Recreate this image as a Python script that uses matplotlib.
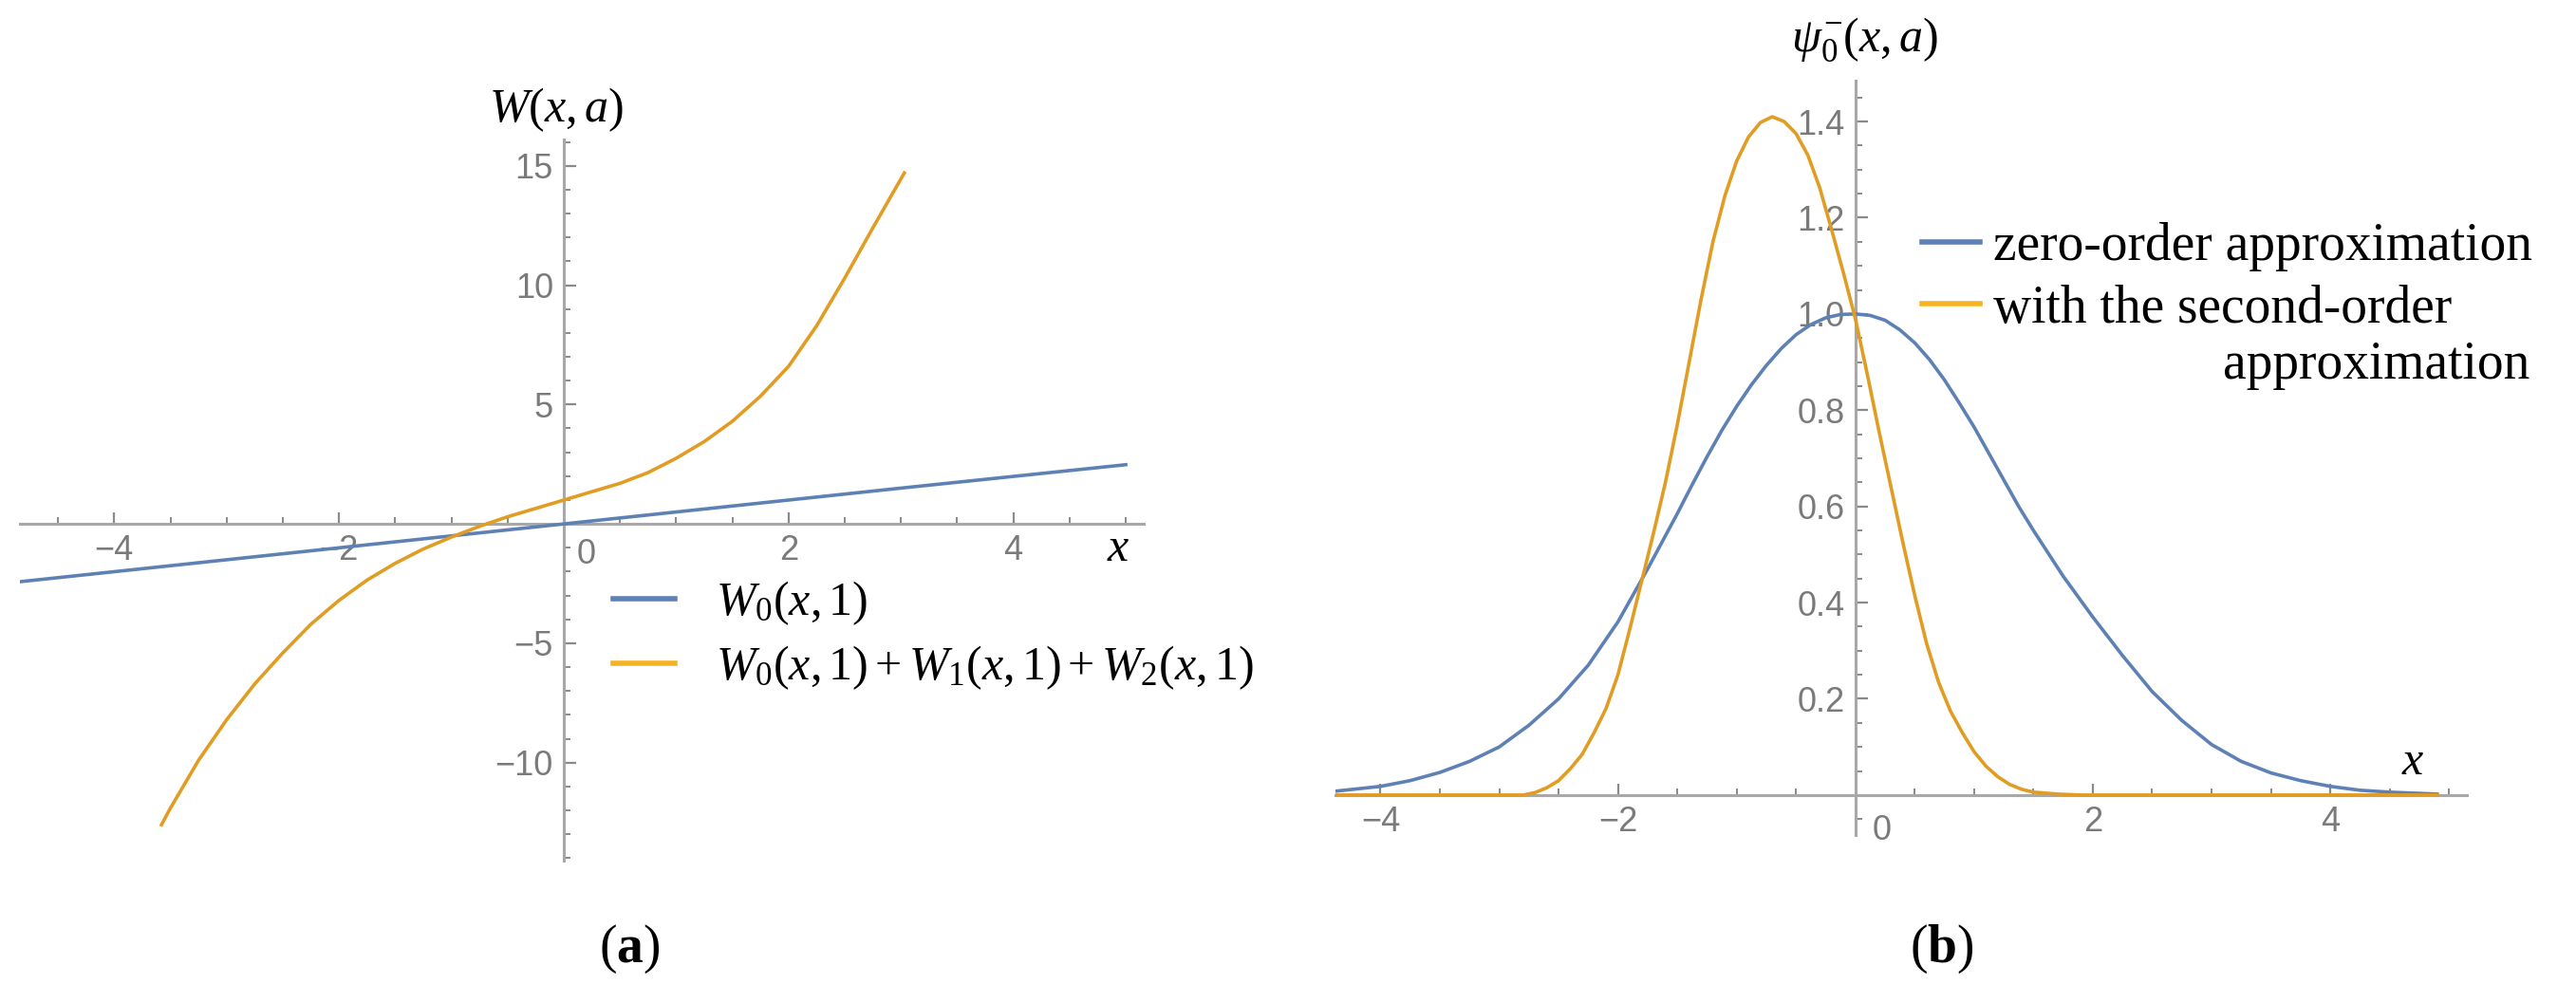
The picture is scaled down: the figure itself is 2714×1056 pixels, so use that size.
import numpy as np
import matplotlib
matplotlib.use("Agg")
import matplotlib.pyplot as plt
from matplotlib.ticker import FixedLocator, MultipleLocator

plt.rcParams['mathtext.fontset'] = 'custom'
plt.rcParams['mathtext.rm'] = 'Liberation Serif'
plt.rcParams['mathtext.it'] = 'Liberation Serif:italic'
plt.rcParams['mathtext.bf'] = 'Liberation Serif:bold'

BLUE = '#5e81b5'
ORANGE = '#e19c24'
LEG_ORANGE = '#f5b324'
AXIS_GREY = '#a8a8a8'
TICK_GREY = '#8a8a8a'
LABEL_GREY = '#7a7a7a'

# ---- panel (a): W(x, a) ----
w0_x = [-4.84, -3.0, -1.0, 0.0, 1.0, 3.0, 5.0]
w0_y = [-2.42, -1.5, -0.5, 0.0, 0.5, 1.5, 2.48]

w012_x = [-3.58, -3.5, -3.25, -3.0, -2.75, -2.5, -2.25, -2.0, -1.75, -1.5,
          -1.25, -1.0, -0.75, -0.5, -0.25, 0.0, 0.25, 0.5, 0.75, 1.0,
          1.25, 1.5, 1.75, 2.0, 2.25, 2.5, 2.75, 3.03]
w012_y = [-12.6, -11.9, -9.9, -8.2, -6.7, -5.4, -4.2, -3.2, -2.35, -1.65,
          -1.05, -0.55, -0.1, 0.3, 0.65, 1.0, 1.35, 1.7, 2.15, 2.75,
          3.45, 4.3, 5.35, 6.6, 8.3, 10.3, 12.4, 14.7]

a_xticks = [-4, -2, 2, 4]
a_xticklabels = ['\u22124', '\u22122', '2', '4']
a_yticks = [-10, -5, 5, 10, 15]
a_yticklabels = ['\u221210', '\u22125', '5', '10', '15']

# ---- panel (b): psi_0^-(x, a) ----
psi0_x = [-4.38, -4.0, -3.75, -3.5, -3.25, -3.0, -2.75, -2.5, -2.25, -2.0,
          -1.75, -1.5, -1.375, -1.25, -1.125, -1.0, -0.875, -0.75, -0.625, -0.5,
          -0.375, -0.25, -0.125, 0.0, 0.125, 0.25, 0.375, 0.5, 0.625, 0.75,
          0.875, 1.0, 1.125, 1.25, 1.375, 1.5, 1.75, 2.0, 2.25, 2.5,
          2.75, 3.0, 3.25, 3.5, 3.75, 4.0, 4.25, 4.5, 4.9]
psi0_y = [0.008, 0.018, 0.03, 0.047, 0.07, 0.1, 0.145, 0.2, 0.27, 0.36,
          0.47, 0.585, 0.645, 0.703, 0.758, 0.808, 0.853, 0.893, 0.928, 0.957,
          0.978, 0.992, 0.999, 1.0, 0.997, 0.987, 0.967, 0.94, 0.905, 0.863,
          0.815, 0.765, 0.71, 0.655, 0.6, 0.55, 0.455, 0.37, 0.29, 0.215,
          0.155, 0.105, 0.07, 0.046, 0.03, 0.018, 0.01, 0.006, 0.002]

psi2_x = [-4.38, -3.5, -2.8, -2.7, -2.6, -2.5, -2.4, -2.3, -2.2, -2.1,
          -2.0, -1.9, -1.8, -1.7, -1.6, -1.5, -1.4, -1.3, -1.2, -1.1,
          -1.0, -0.9, -0.8, -0.7, -0.6, -0.5, -0.4, -0.3, -0.2, -0.1,
          0.0, 0.1, 0.2, 0.3, 0.4, 0.5, 0.6, 0.7, 0.8, 0.9,
          1.0, 1.1, 1.2, 1.3, 1.4, 1.5, 1.7, 1.9, 3.0, 4.9]
psi2_y = [0.0, 0.0, 0.0, 0.005, 0.015, 0.03, 0.055, 0.085, 0.13, 0.18,
          0.25, 0.345, 0.445, 0.545, 0.65, 0.77, 0.90, 1.03, 1.15, 1.245,
          1.318, 1.368, 1.398, 1.41, 1.40, 1.375, 1.33, 1.262, 1.175, 1.085,
          0.99, 0.875, 0.755, 0.64, 0.525, 0.415, 0.315, 0.235, 0.175, 0.13,
          0.09, 0.06, 0.038, 0.022, 0.012, 0.006, 0.002, 0.0, 0.0, 0.0]

b_xticks = [-4, -2, 2, 4]
b_xticklabels = ['\u22124', '\u22122', '2', '4']
b_yticks = [0.2, 0.4, 0.6, 0.8, 1.0, 1.2, 1.4]
b_yticklabels = ['0.2', '0.4', '0.6', '0.8', '1.0', '1.2', '1.4']


def style_axes(ax, xticks, xlabels, yticks, ylabels, xminor, yminor):
    # Mathematica-like axes crossing at the origin
    for side in ['top', 'right']:
        ax.spines[side].set_visible(False)
    for side in ['left', 'bottom']:
        ax.spines[side].set_position(('data', 0))
        ax.spines[side].set_color(AXIS_GREY)
        ax.spines[side].set_linewidth(2.2)
    ax.xaxis.set_major_locator(FixedLocator(xticks))
    ax.set_xticklabels(xlabels)
    ax.yaxis.set_major_locator(FixedLocator(yticks))
    ax.set_yticklabels(ylabels)
    ax.xaxis.set_minor_locator(MultipleLocator(xminor))
    ax.yaxis.set_minor_locator(MultipleLocator(yminor))
    ax.tick_params(which='major', direction='in', length=9, width=1.6,
                   color=TICK_GREY, labelcolor=LABEL_GREY, labelsize=26, pad=8)
    ax.tick_params(which='minor', direction='in', length=5, width=1.4,
                   color=TICK_GREY)
    for lab in ax.get_xticklabels() + ax.get_yticklabels():
        lab.set_family('Liberation Sans')
    ax.patch.set_visible(False)


fig = plt.figure(figsize=(27.14, 10.56), dpi=100)

# panel (a)
ax1 = fig.add_axes([0.0077, 0.1411, 0.4363, 0.7197])
ax1.set_xlim(-4.84, 5.16)
ax1.set_ylim(-14.1, 16.1)
ax1.plot(w0_x, w0_y, color=BLUE, lw=2.6, zorder=3, label=r'$W_0(x,1)$')
ax1.plot(w012_x, w012_y, color=ORANGE, lw=2.6, zorder=3,
         label=r'$W_0(x,1)+W_1(x,1)+W_2(x,1)$')
style_axes(ax1, a_xticks, a_xticklabels, a_yticks, a_yticklabels, 0.5, 1)
ax1.text(0.2, -1.3, '0', ha='center', va='center', fontsize=26,
         color=LABEL_GREY, family='Liberation Sans')
ax1.text(4.93, -1.0, r'$x$', ha='center', va='center', fontsize=36)
fig.text(586 / 2714, 1 - 116 / 1056, r'$W(x,a)$', ha='center', va='center',
         fontsize=36)
leg1 = ax1.legend(loc='upper left', bbox_to_anchor=(646 / 2714, 1 - 610 / 1056),
                  bbox_transform=fig.transFigure, frameon=False, fontsize=36,
                  handlelength=1.3, handletextpad=0.85, labelspacing=0.35,
                  borderpad=0, borderaxespad=0)
leg1.get_lines()[1].set_color(LEG_ORANGE)
for ln in leg1.get_lines():
    ln.set_linewidth(4)

# panel (b)
ax2 = fig.add_axes([0.5184, 0.1667, 0.4392, 0.7528])
ax2.set_xlim(-4.38, 5.15)
ax2.set_ylim(-0.083, 1.485)
ax2.plot(psi0_x, psi0_y, color=BLUE, lw=2.6, zorder=3,
         label='zero-order approximation')
ax2.plot(psi2_x, psi2_y, color=ORANGE, lw=2.6, zorder=3,
         label='with the second-order')
style_axes(ax2, b_xticks, b_xticklabels, b_yticks, b_yticklabels, 0.5, 0.05)
ax2.text(0.22, -0.074, '0', ha='center', va='center', fontsize=26,
         color=LABEL_GREY, family='Liberation Sans')
ax2.text(4.7, 0.07, r'$x$', ha='center', va='center', fontsize=36)
fig.text(1965 / 2714, 1 - 42 / 1056, r'$\psi_0^{-}(x,a)$', ha='center',
         va='center', fontsize=36)
leg2 = ax2.legend(loc='upper left', bbox_to_anchor=(2025 / 2714, 1 - 234 / 1056),
                  bbox_transform=fig.transFigure, frameon=False,
                  prop={'family': 'Liberation Serif', 'size': 40},
                  handlelength=1.1, handletextpad=0.25, labelspacing=0.25,
                  borderpad=0, borderaxespad=0)
leg2.get_lines()[1].set_color(LEG_ORANGE)
for ln in leg2.get_lines():
    ln.set_linewidth(4)
fig.text(2665 / 2714, 1 - 385 / 1056, 'approximation', ha='right', va='center',
         family='Liberation Serif', fontsize=40)

# captions
fig.text(663 / 2714, 1 - 1000 / 1056, r'$(\mathbf{a})$', ha='center',
         va='center', fontsize=40)
fig.text(2046 / 2714, 1 - 1000 / 1056, r'$(\mathbf{b})$', ha='center',
         va='center', fontsize=40)

fig.savefig('out.png', dpi=100, facecolor='white')
